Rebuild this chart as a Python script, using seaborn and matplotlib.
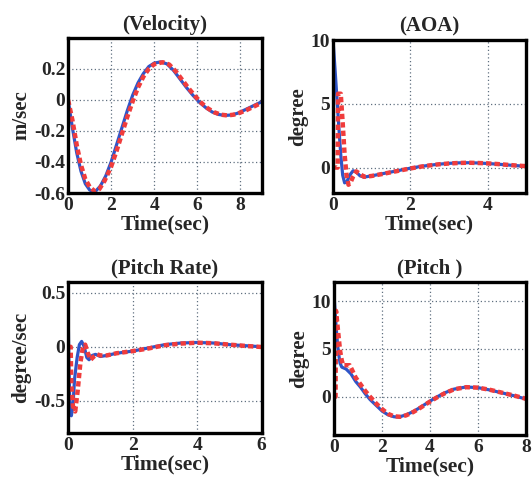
import matplotlib
matplotlib.use("Agg")
import matplotlib.pyplot as plt
import seaborn as sns

# Velocity (m/sec)
vel_t_blue = [0, 0.2, 0.4, 0.6, 0.8, 1.0, 1.15, 1.3, 1.5, 1.75, 2.0, 2.25, 2.5, 2.75, 3.0, 3.25,
              3.5, 3.75, 4.0, 4.3, 4.6, 4.9, 5.2, 5.5, 5.8, 6.1, 6.4, 6.7, 7.0, 7.3, 7.6, 7.9,
              8.2, 8.5, 8.8, 9.0]
vel_blue = [0, -0.18, -0.34, -0.46, -0.54, -0.58, -0.59, -0.585, -0.555, -0.49, -0.40, -0.29,
            -0.18, -0.07, 0.03, 0.11, 0.17, 0.215, 0.237, 0.245, 0.232, 0.19, 0.135, 0.08, 0.03,
            -0.015, -0.05, -0.078, -0.094, -0.1, -0.097, -0.085, -0.065, -0.045, -0.025, -0.012]
vel_t_red = [0, 0.2, 0.4, 0.6, 0.8, 1.0, 1.25, 1.45, 1.7, 2.0, 2.25, 2.5, 2.75, 3.0, 3.25, 3.5,
             3.75, 4.0, 4.4, 4.7, 5.0, 5.3, 5.6, 5.9, 6.2, 6.5, 6.8, 7.1, 7.4, 7.7, 8.0, 8.3,
             8.6, 9.0]
vel_red = [0, -0.13, -0.29, -0.42, -0.51, -0.56, -0.59, -0.575, -0.52, -0.43, -0.33, -0.22,
           -0.11, -0.01, 0.08, 0.15, 0.2, 0.23, 0.243, 0.228, 0.185, 0.13, 0.075, 0.025, -0.02,
           -0.055, -0.08, -0.095, -0.1, -0.095, -0.082, -0.065, -0.045, -0.018]

# AOA (degree)
aoa_t_blue = [0, 0.05, 0.1, 0.15, 0.2, 0.25, 0.3, 0.36, 0.43, 0.52, 0.6, 0.7, 0.8, 1.0, 1.25,
              1.5, 1.75, 2.0, 2.25, 2.5, 2.75, 3.0, 3.25, 3.5, 3.75, 4.0, 4.25, 4.5, 4.75, 5.0]
aoa_blue = [10, 7.8, 5.5, 3.2, 1.0, -0.6, -1.2, -1.1, -0.6, -0.25, -0.35, -0.65, -0.75, -0.65,
            -0.5, -0.35, -0.2, -0.05, 0.08, 0.18, 0.27, 0.33, 0.37, 0.38, 0.36, 0.32, 0.27, 0.21,
            0.15, 0.1]
aoa_t_red = [0, 0.12, 0.13, 0.2, 0.25, 0.3, 0.35, 0.4, 0.45, 0.52, 0.6, 0.68, 0.8, 1.0, 1.25,
             1.5, 1.75, 2.0, 2.25, 2.5, 2.75, 3.0, 3.25, 3.5, 3.75, 4.0, 4.25, 4.5, 4.75, 5.0]
aoa_red = [0, 0, 5.8, 5.8, 3.5, 1.0, -0.6, -1.35, -1.2, -0.7, -0.3, -0.45, -0.72, -0.66, -0.52,
           -0.37, -0.22, -0.07, 0.06, 0.17, 0.26, 0.32, 0.36, 0.38, 0.36, 0.33, 0.28, 0.22,
           0.16, 0.11]

# Pitch Rate (degree/sec)
pr_t_blue = [0, 0.02, 0.05, 0.1, 0.15, 0.2, 0.28, 0.35, 0.42, 0.5, 0.58, 0.65, 0.75, 0.85,
             1.0, 1.2, 1.5, 2.0, 2.5, 3.0, 3.5, 4.0, 4.5, 5.0, 5.5, 6.0]
pr_blue = [0.4, -0.1, -0.5, -0.64, -0.55, -0.3, -0.1, 0.02, 0.05, 0.0, -0.1, -0.12, -0.08,
           -0.07, -0.09, -0.08, -0.06, -0.04, -0.01, 0.02, 0.035, 0.04, 0.035, 0.02, 0.01, 0.0]
pr_t_red = [0, 0.08, 0.1, 0.15, 0.22, 0.3, 0.38, 0.45, 0.53, 0.6, 0.7, 0.8, 0.9, 1.0, 1.2,
            1.5, 2.0, 2.5, 3.0, 3.5, 4.0, 4.5, 5.0, 5.5, 6.0]
pr_red = [0, 0, -0.35, -0.55, -0.6, -0.4, -0.15, -0.02, 0.02, -0.05, -0.12, -0.09, -0.07,
          -0.08, -0.08, -0.06, -0.04, -0.015, 0.015, 0.03, 0.038, 0.033, 0.02, 0.008, -0.002]

# Pitch (degree)
pit_t_blue = [0, 0.05, 0.1, 0.15, 0.2, 0.25, 0.32, 0.5, 0.7, 0.9, 1.1, 1.3, 1.5, 1.75, 2.0,
              2.25, 2.5, 2.7, 3.0, 3.3, 3.6, 4.0, 4.3, 4.6, 5.0, 5.5, 6.0, 6.5, 7.0, 7.5, 8.0]
pit_blue = [10.6, 8.5, 6.8, 5.3, 4.3, 3.5, 3.1, 2.9, 2.4, 1.6, 1.0, 0.3, -0.3, -0.9, -1.5,
            -1.9, -2.1, -2.12, -1.9, -1.55, -1.1, -0.45, 0.0, 0.4, 0.8, 1.02, 0.95, 0.7, 0.4,
            0.1, -0.25]
pit_t_red = [0, 0.06, 0.08, 0.12, 0.18, 0.25, 0.32, 0.38, 0.5, 0.65, 0.75, 0.9, 1.1, 1.3, 1.5,
             1.75, 2.0, 2.25, 2.5, 2.75, 3.0, 3.3, 3.6, 4.0, 4.3, 4.6, 5.0, 5.5, 6.0, 6.5,
             7.0, 7.5, 8.0]
pit_red = [0, 0, 9.0, 8.0, 6.5, 4.8, 3.8, 3.3, 3.3, 3.3, 2.8, 2.0, 1.3, 0.6, 0.0, -0.7, -1.3,
           -1.8, -2.05, -2.1, -1.95, -1.6, -1.15, -0.5, -0.05, 0.35, 0.78, 1.0, 0.95, 0.72,
           0.42, 0.12, -0.22]

panels = [
    ("(Velocity)", "m/sec", vel_t_blue, vel_blue, vel_t_red, vel_red,
     (0, 9), (-0.6, 0.4), [0, 2, 4, 6, 8], [-0.6, -0.4, -0.2, 0, 0.2],
     ["-0.6", "-0.4", "-0.2", "0", "0.2"], [0.128, 0.597, 0.364, 0.324]),
    ("(AOA)", "degree", aoa_t_blue, aoa_blue, aoa_t_red, aoa_red,
     (0, 5), (-2, 10), [0, 2, 4], [0, 5, 10], ["0", "5", "10"],
     [0.626, 0.597, 0.363, 0.319]),
    ("(Pitch Rate)", "degree/sec", pr_t_blue, pr_blue, pr_t_red, pr_red,
     (0, 6), (-0.8, 0.6), [0, 2, 4, 6], [-0.5, 0, 0.5], ["-0.5", "0", "0.5"],
     [0.128, 0.096, 0.364, 0.315]),
    ("(Pitch )", "degree", pit_t_blue, pit_blue, pit_t_red, pit_red,
     (0, 8), (-4, 12), [0, 2, 4, 6, 8], [0, 5, 10], ["0", "5", "10"],
     [0.628, 0.092, 0.361, 0.319]),
]

sns.set_theme(style="white")
plt.rcParams["font.family"] = ["Liberation Serif", "DejaVu Serif"]
plt.rcParams["font.weight"] = "bold"

fig = plt.figure(figsize=(5.32, 4.79), dpi=100)

for title, ylab, tb, yb, tr, yr, xl, yl, xt, yt, ytl, pos in panels:
    ax = fig.add_axes(pos)
    sns.lineplot(x=tb, y=yb, ax=ax, color="#2f55c8", linewidth=2.3,
                 estimator=None, sort=False)
    sns.lineplot(x=tr, y=yr, ax=ax, color="#f03c3c", linewidth=3.2,
                 linestyle=(0, (1.2, 0.7)), estimator=None, sort=False)
    ax.set_xlim(*xl)
    ax.set_ylim(*yl)
    ax.set_xticks(xt)
    ax.set_xticklabels([str(v) for v in xt])
    ax.set_yticks(yt)
    ax.set_yticklabels(ytl)
    ax.grid(True, linestyle=(0, (1, 2)), color="#607080", linewidth=0.9)
    for s in ax.spines.values():
        s.set_color("black")
        s.set_linewidth(2.4)
    ax.tick_params(labelsize=14, direction="in", length=3, color="black")
    ax.tick_params(axis="x", pad=3)
    ax.tick_params(axis="y", pad=2)
    for lab in ax.get_xticklabels() + ax.get_yticklabels():
        lab.set_fontweight("bold")
    ax.set_title(title, fontsize=15, fontweight="bold", pad=6)
    ax.set_xlabel("Time(sec)", fontsize=15.5, fontweight="bold", labelpad=0)
    ax.set_ylabel(ylab, fontsize=15, fontweight="bold", labelpad=2)

fig.savefig("out.png", dpi=100)
